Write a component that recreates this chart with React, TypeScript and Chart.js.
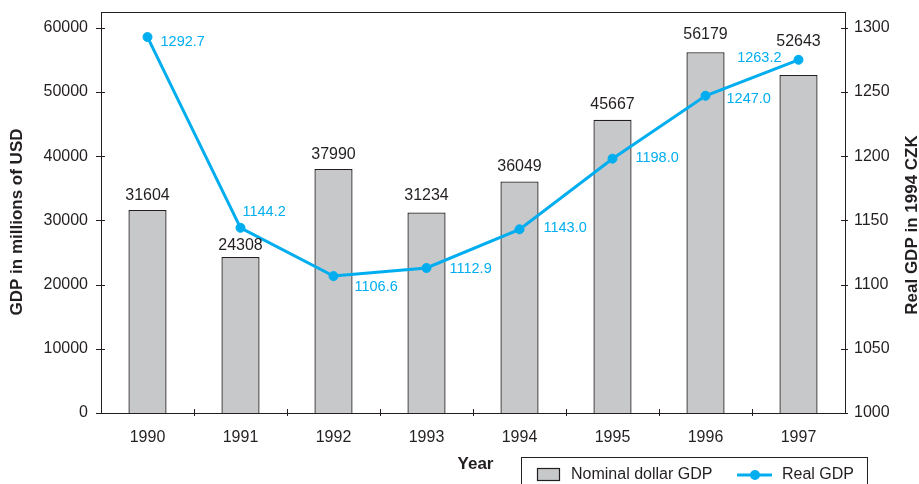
import React, { useEffect, useRef } from 'react';
import { Chart, registerables } from 'chart.js';

Chart.register(...registerables);

// ---- data ----
const years = ['1990', '1991', '1992', '1993', '1994', '1995', '1996', '1997'];
const nominalGdp = [31604, 24308, 37990, 31234, 36049, 45667, 56179, 52643];
// Real GDP as plotted in the picture (1997 point drawn near 1275)
const realGdp = [1292.7, 1144.2, 1106.6, 1112.9, 1143.0, 1198.0, 1247.0, 1275.0];
// Real GDP as printed next to each point
const realGdpLabels = ['1292.7', '1144.2', '1106.6', '1112.9', '1143.0', '1198.0', '1247.0', '1263.2'];
const leftTicks = [0, 10000, 20000, 30000, 40000, 50000, 60000];
const rightTicks = [1000, 1050, 1100, 1150, 1200, 1250, 1300];

// ---- styling ----
const FONT = '"Liberation Sans", Arial, Helvetica, sans-serif';
const TEXT = '#231f20';
const BLUE = '#00aeef';
const BAR_FILL = '#c7c8ca';
// label offsets (styling only)
const barLabelGap = [10, 7, 10.5, 12, 11, 10.7, 13, 29];
const realLabelOffsets: [number, number, CanvasTextAlign][] = [
  [13, 5, 'left'],
  [2, -16, 'left'],
  [21, 11, 'left'],
  [23, 1, 'left'],
  [24, -1.5, 'left'],
  [23, -1, 'left'],
  [21, 3, 'left'],
  [-17, -2, 'right'],
];

const zeroPad = (s: any) => {
  s.paddingTop = 0;
  s.paddingBottom = 0;
  s.paddingLeft = 0;
  s.paddingRight = 0;
};

const decorPlugin = {
  id: 'decor',
  afterDatasetsDraw(chart: any) {
    const { ctx, chartArea } = chart;
    const xs = chart.scales.x;
    const yl = chart.scales.y;
    const yr = chart.scales.y1;
    ctx.save();

    // top border
    ctx.strokeStyle = TEXT;
    ctx.lineWidth = 1;
    ctx.beginPath();
    ctx.moveTo(chartArea.left, chartArea.top + 0.5);
    ctx.lineTo(chartArea.right, chartArea.top + 0.5);
    ctx.stroke();

    // tick marks
    ctx.beginPath();
    leftTicks.forEach((v) => {
      const y = Math.round(yl.getPixelForValue(v)) + 0.5;
      ctx.moveTo(chartArea.left - 5, y);
      ctx.lineTo(chartArea.left + 4, y);
    });
    rightTicks.forEach((v) => {
      const y = Math.round(yr.getPixelForValue(v)) + 0.5;
      ctx.moveTo(chartArea.right - 4, y);
      ctx.lineTo(chartArea.right + 3, y);
    });
    for (let i = 1; i < years.length; i++) {
      const x = Math.round((xs.getPixelForValue(i - 1) + xs.getPixelForValue(i)) / 2) + 0.5;
      ctx.moveTo(x, chartArea.bottom - 4);
      ctx.lineTo(x, chartArea.bottom + 3);
    }
    ctx.stroke();

    // bar labels
    const barMeta = chart.getDatasetMeta(1);
    ctx.fillStyle = TEXT;
    ctx.font = `16px ${FONT}`;
    ctx.textAlign = 'center';
    ctx.textBaseline = 'alphabetic';
    barMeta.data.forEach((bar: any, i: number) => {
      ctx.fillText(String(nominalGdp[i]), bar.x, bar.y - barLabelGap[i]);
    });

    // line labels
    const lineMeta = chart.getDatasetMeta(0);
    ctx.fillStyle = BLUE;
    ctx.font = `14.5px ${FONT}`;
    ctx.textBaseline = 'middle';
    lineMeta.data.forEach((pt: any, i: number) => {
      const [dx, dy, align] = realLabelOffsets[i];
      ctx.textAlign = align;
      ctx.fillText(realGdpLabels[i], pt.x + dx, pt.y + dy);
    });

    // axis titles
    ctx.fillStyle = TEXT;
    ctx.font = `bold 17px ${FONT}`;
    ctx.textAlign = 'center';
    ctx.textBaseline = 'middle';
    ctx.save();
    ctx.translate(17, 222);
    ctx.rotate(-Math.PI / 2);
    ctx.fillText('GDP in millions of USD', 0, 0);
    ctx.restore();
    ctx.save();
    ctx.translate(912, 225);
    ctx.rotate(-Math.PI / 2);
    ctx.fillText('Real GDP in 1994 CZK', 0, 0);
    ctx.restore();
    ctx.fillText('Year', 475.5, 464);

    // legend
    ctx.strokeStyle = TEXT;
    ctx.lineWidth = 1;
    ctx.strokeRect(521.5, 457.5, 346, 40);
    ctx.fillStyle = BAR_FILL;
    ctx.fillRect(537, 468, 23, 13);
    ctx.lineWidth = 1.2;
    ctx.strokeRect(537.5, 468.5, 22, 12);
    ctx.fillStyle = TEXT;
    ctx.font = `16px ${FONT}`;
    ctx.textAlign = 'left';
    ctx.textBaseline = 'middle';
    ctx.fillText('Nominal dollar GDP', 571, 475);
    ctx.strokeStyle = BLUE;
    ctx.lineWidth = 3;
    ctx.beginPath();
    ctx.moveTo(737, 475);
    ctx.lineTo(772, 475);
    ctx.stroke();
    ctx.fillStyle = BLUE;
    ctx.beginPath();
    ctx.arc(755, 475, 5, 0, Math.PI * 2);
    ctx.fill();
    ctx.fillStyle = TEXT;
    ctx.fillText('Real GDP', 782, 475);

    ctx.restore();
  },
};

export default function App() {
  const ref = useRef<HTMLCanvasElement | null>(null);

  useEffect(() => {
    if (!ref.current) return;
    const tickFont = { family: FONT, size: 16 };
    const chart = new Chart(ref.current, {
      type: 'bar',
      data: {
        labels: years,
        datasets: [
          {
            type: 'line',
            label: 'Real GDP',
            data: realGdp,
            yAxisID: 'y1',
            borderColor: BLUE,
            backgroundColor: BLUE,
            borderWidth: 3,
            pointRadius: 4.5,
            pointBorderWidth: 1,
            pointBackgroundColor: BLUE,
            pointBorderColor: BLUE,
            tension: 0,
            order: 1,
          } as any,
          {
            type: 'bar',
            label: 'Nominal dollar GDP',
            data: nominalGdp,
            yAxisID: 'y',
            backgroundColor: BAR_FILL,
            borderColor: TEXT,
            borderWidth: 1.3,
            borderSkipped: 'bottom',
            categoryPercentage: 1,
            barPercentage: 0.41,
            order: 2,
          },
        ],
      },
      options: {
        responsive: false,
        animation: false,
        layout: { padding: { top: 12, left: 0, right: 0, bottom: 0 } },
        plugins: {
          legend: { display: false },
          tooltip: { enabled: false },
          title: { display: false },
        },
        scales: {
          x: {
            type: 'category',
            offset: true,
            grid: { display: false, drawTicks: false },
            border: { display: true, color: TEXT, width: 1 },
            ticks: { font: tickFont, color: TEXT, padding: 15, maxRotation: 0, autoSkip: false },
            afterFit: (s: any) => {
              s.height = 71;
              zeroPad(s);
            },
          },
          y: {
            type: 'linear',
            position: 'left',
            min: 0,
            max: 62444,
            grid: { display: false, drawTicks: false },
            border: { display: true, color: TEXT, width: 1 },
            ticks: {
              font: tickFont,
              color: TEXT,
              padding: 13,
              includeBounds: false,
              callback: (v: any) => String(v),
            },
            afterBuildTicks: (s: any) => {
              s.ticks = leftTicks.map((v) => ({ value: v }));
            },
            afterFit: (s: any) => {
              s.width = 101;
              zeroPad(s);
            },
          },
          y1: {
            type: 'linear',
            position: 'right',
            min: 1000,
            max: 1312.2,
            grid: { display: false, drawTicks: false },
            border: { display: true, color: TEXT, width: 1 },
            ticks: {
              font: tickFont,
              color: TEXT,
              padding: 9,
              includeBounds: false,
              callback: (v: any) => String(v),
            },
            afterBuildTicks: (s: any) => {
              s.ticks = rightTicks.map((v) => ({ value: v }));
            },
            afterFit: (s: any) => {
              s.width = 74;
              zeroPad(s);
            },
          },
        },
      } as any,
      plugins: [decorPlugin],
    });
    return () => chart.destroy();
  }, []);

  return (
    <div style={{ position: 'absolute', left: 0, top: 0, width: 919, height: 484, background: '#fff' }}>
      <canvas ref={ref} width={919} height={484} style={{ display: 'block' }} />
    </div>
  );
}
